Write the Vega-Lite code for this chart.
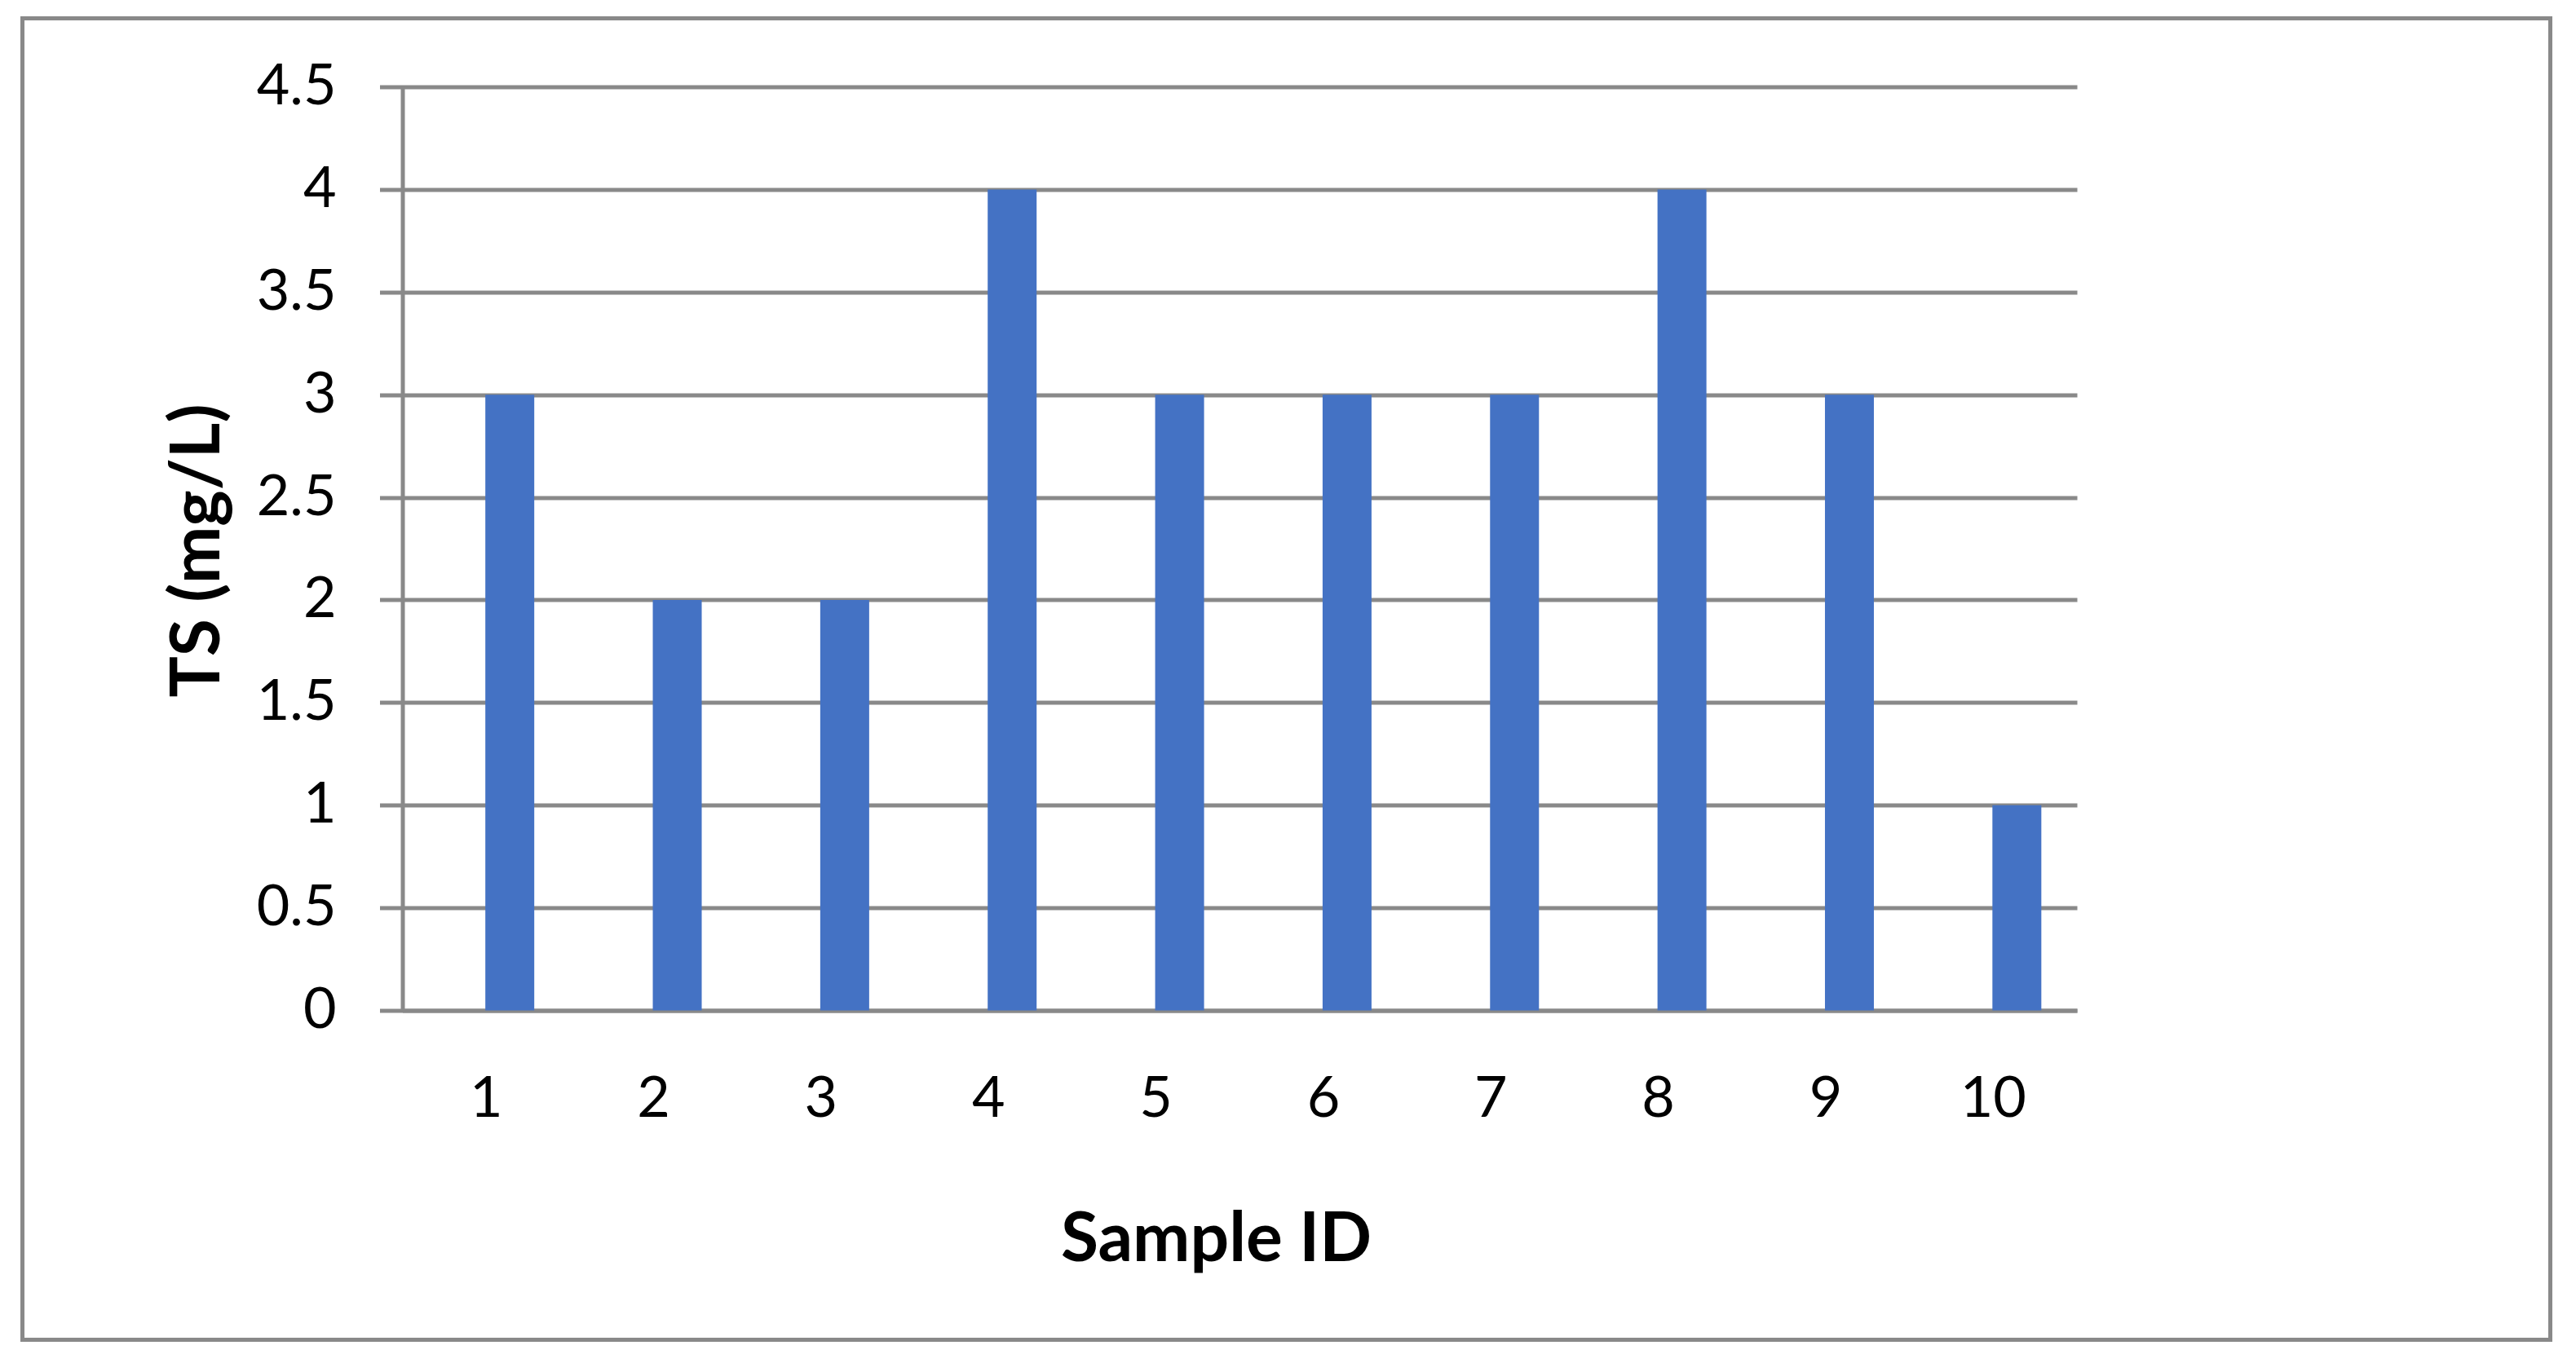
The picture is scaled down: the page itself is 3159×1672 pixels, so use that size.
{
  "$schema": "https://vega.github.io/schema/vega-lite/v6.json",
  "autosize": {"type": "none"},
  "padding": {"left": 27.5, "top": 22.5, "right": 31.5, "bottom": 28.5},
  "width": 3100,
  "height": 1621,
  "background": "white",
  "config": {
    "view": {"stroke": "#898989", "strokeWidth": 5, "fill": "white"},
    "axis": {
      "labelFont": "Lato",
      "titleFont": "Lato",
      "labelColor": "#000000",
      "titleColor": "#000000",
      "domainColor": "#898989",
      "domainWidth": 5,
      "tickColor": "#898989",
      "tickWidth": 5,
      "gridColor": "#898989",
      "gridWidth": 5,
      "gridOpacity": 1,
      "domainCap": "butt",
      "tickCap": "butt"
    }
  },
  "data": {
    "values": [
      {"sample": "1", "ts": 3},
      {"sample": "2", "ts": 2},
      {"sample": "3", "ts": 2},
      {"sample": "4", "ts": 4},
      {"sample": "5", "ts": 3},
      {"sample": "6", "ts": 3},
      {"sample": "7", "ts": 3},
      {"sample": "8", "ts": 4},
      {"sample": "9", "ts": 3},
      {"sample": "10", "ts": 1}
    ]
  },
  "mark": {"type": "bar", "color": "#4472C4", "width": 60, "xOffset": 29},
  "encoding": {
    "x": {
      "field": "sample",
      "type": "ordinal",
      "sort": null,
      "scale": {"type": "band", "range": [466, 2519.5], "paddingInner": 0, "paddingOuter": 0},
      "axis": {
        "title": "Sample ID",
        "offset": -404,
        "ticks": false,
        "tickSize": 0,
        "labelAngle": 0,
        "labelFontSize": 70,
        "labelBaseline": "middle",
        "labelPadding": 109,
        "grid": false,
        "titleFontSize": 84,
        "titleFontWeight": "bold",
        "titleX": 1463.5,
        "titleY": 282,
        "titleBaseline": "middle",
        "titleAlign": "center"
      }
    },
    "y": {
      "field": "ts",
      "type": "quantitative",
      "scale": {"domain": [0, 4.5], "range": [1217, 84], "nice": false, "zero": true},
      "axis": {
        "title": "TS (mg/L)",
        "offset": -466,
        "values": [0, 0.5, 1, 1.5, 2, 2.5, 3, 3.5, 4, 4.5],
        "format": "~g",
        "grid": true,
        "tickSize": 28,
        "labelFontSize": 70,
        "labelPadding": 53.5,
        "labelBaseline": "middle",
        "titleFontSize": 84,
        "titleFontWeight": "bold",
        "titleAngle": 270,
        "titleX": -250,
        "titleY": 652.5,
        "titleBaseline": "middle",
        "titleAlign": "center"
      }
    }
  }
}
